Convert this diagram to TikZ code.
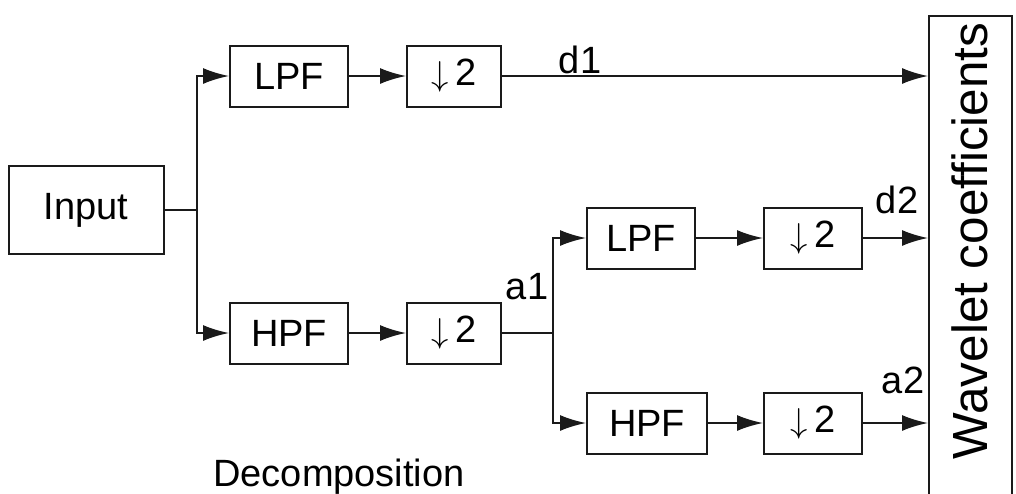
\documentclass[tikz,border=0pt]{standalone}
\usepackage{fontspec}
\setmainfont{Liberation Sans}
\usepackage{tikz}
\usetikzlibrary{arrows.meta,calc,positioning}
\definecolor{darkgray}{HTML}{1A1A1A}
\tikzset{
  sigline/.style={darkgray, line width=1pt},
  sigarrow/.style={darkgray, -{Latex[length=13pt,width=8pt]}, line width=1pt},
  boxnode/.style={draw=darkgray, line width=1pt, inner sep=0pt, minimum height=30.5pt, font=\fontsize{19}{22}\selectfont},
  labelnode/.style={inner sep=1pt, font=\fontsize{19}{22}\selectfont}
}
\begin{document}
\begin{tikzpicture}[x=0.5pt,y=-0.5pt]
  \clip (0,0) rectangle (1016,493);
  \fill[white] (0,0) rectangle (1016,493);
  % first level
  \node[boxnode, minimum width=77.5pt, minimum height=44pt] (input) at (86,210) {Input};
  \node[boxnode, minimum width=59pt] (lpfa) at (289,76) {LPF};
  \node[boxnode, minimum width=47pt] (dsa) at (454,76) {$\downarrow$\,2};
  \node[boxnode, minimum width=59pt] (hpfa) at (289,333) {HPF};
  \node[boxnode, minimum width=47pt] (dsb) at (454,333) {$\downarrow$\,2};
  % second level
  \node[boxnode, minimum width=54pt] (lpfb) at (641,238) {LPF};
  \node[boxnode, minimum width=49pt] (dsc) at (813,238) {$\downarrow$\,2};
  \node[boxnode, minimum width=60pt] (hpfb) at (647,423) {HPF};
  \node[boxnode, minimum width=49pt] (dsd) at (813,423) {$\downarrow$\,2};
  % output
  \node[draw=darkgray, line width=1pt, minimum width=41.5pt, minimum height=242pt] (wcbox) at (970.5,258) {};
  \node[rotate=90, inner sep=0pt, font=\fontsize{24.7}{28}\selectfont] (wctext) at (970,241) {Wavelet coefficients};
  % branches
  \draw[sigline] (input.east) -- ++(32,0) coordinate (ba);
  \draw[sigarrow] (ba) |- (lpfa.west);
  \draw[sigarrow] (ba) |- (hpfa.west);
  \draw[sigarrow] (lpfa) -- (dsa);
  \draw[sigarrow] (hpfa) -- (dsb);
  \draw[sigline] (dsb.east) -- ++(51,0) coordinate (bb);
  \draw[sigarrow] (bb) |- (lpfb.west);
  \draw[sigarrow] (bb) |- (hpfb.west);
  \draw[sigarrow] (lpfb) -- (dsc);
  \draw[sigarrow] (hpfb) -- (dsd);
  \draw[sigarrow] (dsa.east) -- (dsa.east -| wcbox.west);
  \draw[sigarrow] (dsc.east) -- (dsc.east -| wcbox.west);
  \draw[sigarrow] (dsd.east) -- (dsd.east -| wcbox.west);
  % labels
  \node[labelnode] (done) at (580,60) {d1};
  \node[labelnode] (aone) at (527,287) {a1};
  \node[labelnode] (dtwo) at (897,200) {d2};
  \node[labelnode] (atwo) at (903,380) {a2};
  \node[labelnode] (decomp) at (339,477) {Decomposition};
\end{tikzpicture}
\end{document}
